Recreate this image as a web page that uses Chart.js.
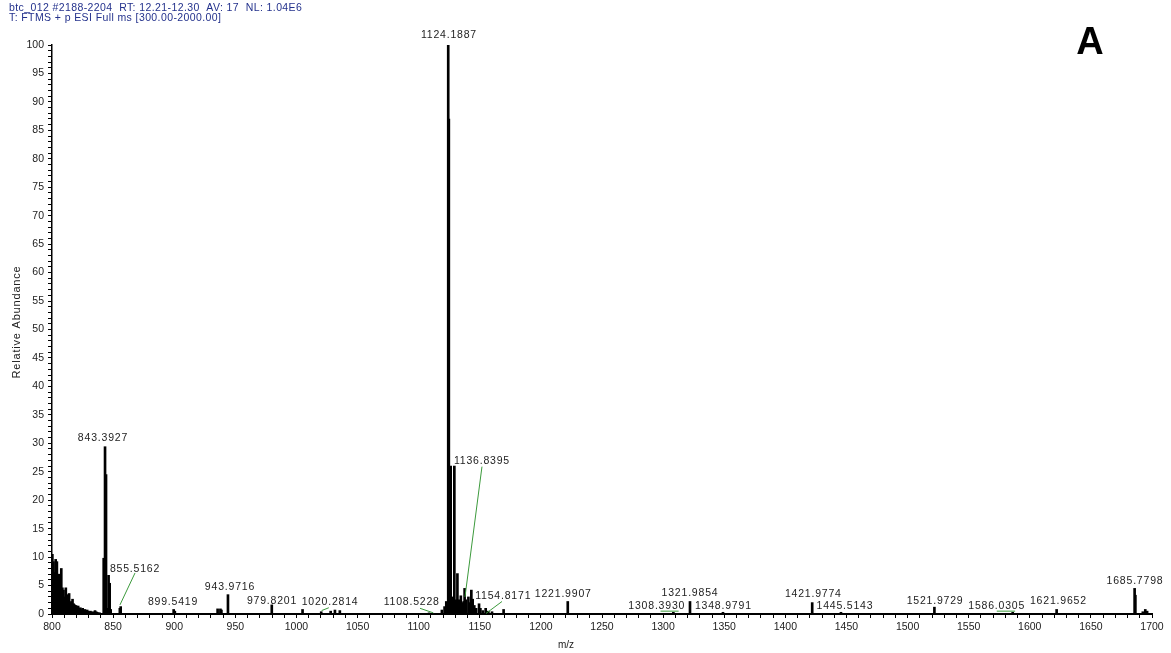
<!DOCTYPE html>
<html><head><meta charset="utf-8">
<script src="https://cdn.jsdelivr.net/npm/chart.js@4/dist/chart.umd.min.js"></script>
<style>html,body{margin:0;padding:0;background:#fff}#wrap{width:1171px;height:653px;position:relative}</style>
</head><body><div id="wrap"><canvas id="c" width="1171" height="653"></canvas></div>
<script>
// ---- data ----
const mzValues = [
  800.3,801.2,802.1,803.0,804.0,805.0,805.8,806.7,807.6,808.5,809.4,810.3,811.3,812.2,813.1,814.0,815.0,815.9,816.8,817.7,
  818.6,819.6,820.5,821.4,822.3,823.2,824.2,825.1,826.0,826.9,827.8,828.8,829.7,830.6,831.5,832.5,833.4,834.3,835.2,836.1,837.0,838.0,839.0,
  842.3,843.39,844.2,845.2,846.3,847.2,848.0,855.5,856.2,
  899.54,900.5,935.5,937.8,938.6,943.97,979.82,1005.0,1020.28,1028.0,1031.5,1035.5,
  1108.52,1119.0,1121.2,1122.6,1124.19,1124.69,1126.2,1127.7,1129.2,1130.4,1131.7,1133.0,1134.5,1135.5,1136.84,1137.6,1138.6,1140.7,1142.0,1143.1,1144.2,1145.5,1147.0,1149.4,1150.5,1152.5,1154.82,1157.0,1160.0,1169.5,
  1221.99,1308.39,1321.99,1348.98,1421.98,1445.51,1521.97,1586.03,1621.97,1685.78,1686.4,1692.5,1694.5,1696.0
];
const relAbundance = [
  10.5,9.2,7.3,9.6,9.2,5.0,7.0,4.5,8.0,4.6,4.2,3.0,4.6,3.4,2.6,3.6,2.0,2.2,2.6,1.8,
  1.6,1.5,1.2,1.4,1.0,1.1,0.8,1.0,0.6,0.8,0.6,0.7,0.5,0.4,0.5,0.3,0.4,0.3,0.6,0.4,0.3,0.2,0.2,
  9.8,29.4,24.5,1.0,6.8,5.4,0.8,1.0,1.3,
  0.8,0.5,0.9,0.9,0.7,3.4,1.6,0.8,0.4,0.5,0.7,0.6,
  0.2,0.7,1.3,2.2,100,87,26.0,3.0,26.0,2.5,7.1,2.5,3.2,2.0,2.2,4.5,2.5,3.0,2.0,4.2,2.6,1.5,1.0,1.8,1.0,0.6,1.0,0.5,0.4,0.8,
  2.2,0.3,2.2,0.3,2.0,0.3,1.2,0.3,0.8,4.5,3.3,0.4,0.8,0.5
];
const xTickValues = [800,850,900,950,1000,1050,1100,1150,1200,1250,1300,1350,1400,1450,1500,1550,1600,1650,1700];
const yTickValues = [0,5,10,15,20,25,30,35,40,45,50,55,60,65,70,75,80,85,90,95,100];

// peak annotation texts, with where they sit (m/z centre, abundance centre)
const peakLabelTexts = ["1124.1887","843.3927","855.5162","899.5419","943.9716","979.8201","1020.2814","1108.5228",
  "1136.8395","1154.8171","1221.9907","1321.9854","1308.3930","1348.9791","1421.9774","1445.5143","1521.9729",
  "1586.0305","1621.9652","1685.7798"];
const peakLabelMz = [1124.8,841.7,867.9,899.0,945.6,980.0,1027.5,1094.3,1151.8,1169.2,1218.3,1322.0,1294.8,1349.3,
  1422.9,1448.8,1522.5,1572.9,1623.4,1686.1];
const peakLabelAb = [101.8,30.9,7.9,2.1,4.7,2.3,2.1,2.05,26.9,3.2,3.5,3.7,1.3,1.3,3.5,1.3,2.3,1.3,2.2,5.8];
// green leader lines: [mz1, ab1, mz2, ab2]
const leaderLines = [
  [867.9,7.2,855.6,1.6],
  [1020.6,0.6,1026.5,1.1],
  [1101.1,1.0,1112.0,0.2],
  [1151.8,25.9,1137.9,3.0],
  [1168.2,2.2,1155.1,0.1],
  [1297.9,0.5,1312.7,0.5],
  [1573.0,0.5,1588.0,0.5]
];
const headerLines = ["btc_012 #2188-2204  RT: 12.21-12.30  AV: 17  NL: 1.04E6","T: FTMS + p ESI Full ms [300.00-2000.00]"];
const panelLetter = "A";
const xTitle = "m/z";
const yTitle = "Relative Abundance";

const points = mzValues.map((m,i)=>({x:m,y:relAbundance[i]}));

const overlay = {
  id:'overlay',
  afterDraw(chart){
    const ctx = chart.ctx, xs = chart.scales.x, ys = chart.scales.y;
    ctx.save();
    // leaders
    ctx.strokeStyle = '#3c9a3c'; ctx.lineWidth = 1;
    leaderLines.forEach(l=>{
      ctx.beginPath();
      ctx.moveTo(xs.getPixelForValue(l[0]), ys.getPixelForValue(l[1]));
      ctx.lineTo(xs.getPixelForValue(l[2]), ys.getPixelForValue(l[3]));
      ctx.stroke();
    });
    // peak labels
    ctx.fillStyle = '#222'; ctx.font = '10.5px "Liberation Sans", Arial, sans-serif';
    ctx.letterSpacing = '0.8px';
    ctx.textAlign = 'center'; ctx.textBaseline = 'middle';
    peakLabelTexts.forEach((t,i)=>{
      ctx.fillText(t, xs.getPixelForValue(peakLabelMz[i]), ys.getPixelForValue(peakLabelAb[i]));
    });
    // header
    ctx.fillStyle = '#23318c'; ctx.font = '10.5px "Liberation Sans", Arial, sans-serif';
    ctx.letterSpacing = '0.4px';
    ctx.textAlign = 'left';
    ctx.fillText(headerLines[0], 9, 8);
    ctx.fillText(headerLines[1], 9, 18);
    // panel letter
    ctx.letterSpacing = '0px';
    ctx.fillStyle = '#000'; ctx.font = 'bold 38px "Liberation Sans", Arial, sans-serif';
    ctx.textAlign = 'center';
    ctx.fillText(panelLetter, 1090, 44);
    // axis titles
    ctx.fillStyle = '#222'; ctx.font = '10px "Liberation Sans", Arial, sans-serif';
    ctx.fillText(xTitle, 566, 645);
    ctx.font = '11px "Liberation Sans", Arial, sans-serif';
    ctx.letterSpacing = '0.8px';
    ctx.translate(17, 322); ctx.rotate(-Math.PI/2);
    ctx.fillText(yTitle, 0, 0);
    ctx.restore();
  }
};

new Chart(document.getElementById('c'), {
  type:'bar',
  data:{datasets:[{data:points, backgroundColor:'#000', borderWidth:0, barThickness:2}]},
  options:{
    responsive:false, animation:false,
    layout:{padding:{left:0,right:19,top:45,bottom:0}},
    plugins:{legend:{display:false}, tooltip:{enabled:false}},
    scales:{
      x:{type:'linear', min:800, max:1700, offset:false,
        afterFit(s){s.height=39;},
        grid:{display:true, drawOnChartArea:false, drawTicks:true, tickLength:4, color:'#000', offset:false},
        border:{display:true, color:'#000', width:2},
        ticks:{stepSize:10, autoSkip:false, maxRotation:0, padding:3, color:'#222',
          font:{family:'"Liberation Sans", Arial, sans-serif', size:10.5},
          callback:(v)=> xTickValues.includes(v) ? String(v) : ''}
      },
      y:{min:0, max:100,
        afterFit(s){s.width=52;},
        grid:{display:true, drawOnChartArea:false, drawTicks:true, tickLength:4, color:'#000'},
        border:{display:true, color:'#000', width:1.5},
        ticks:{stepSize:1, autoSkip:false, padding:4, color:'#222',
          font:{family:'"Liberation Sans", Arial, sans-serif', size:10.5},
          callback:(v)=> yTickValues.includes(v) ? String(v) : ''}
      }
    }
  },
  plugins:[overlay]
});
</script></body></html>
